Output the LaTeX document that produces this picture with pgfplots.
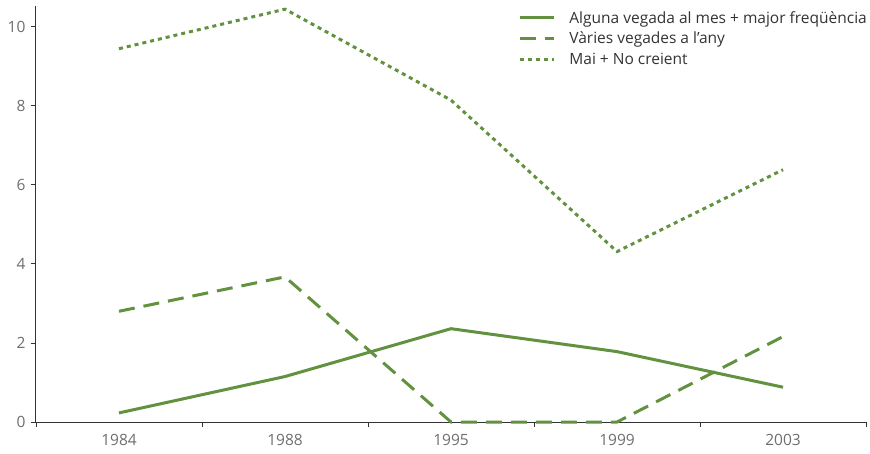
\documentclass[border=0pt]{standalone}
\usepackage{pgfplots}
\pgfplotsset{compat=1.18}
\usepackage{fontspec}
\setmainfont{Open Sans}
\definecolor{grn}{HTML}{62913F}
\definecolor{axc}{HTML}{333333}
\definecolor{tkc}{HTML}{6E6E6E}
\begin{document}
\begin{tikzpicture}
\begin{axis}[
  scale only axis,
  width=830pt, height=416pt,
  xmin=-0.5, xmax=4.5,
  ymin=0, ymax=10.52,
  axis x line=bottom, axis y line=left,
  axis line style={-, axc, line width=1pt},
  xtick={0,1,2,3,4},
  xticklabels={1984,1988,1995,1999,2003},
  major x tick style={draw=none},
  minor xtick={-0.5,0.5,1.5,2.5,3.5,4.5},
  minor x tick style={axc, line width=0.8pt},
  minor tick length=5pt,
  ytick={0,2,4,6,8,10},
  y tick style={axc, line width=0.8pt},
  major tick length=5pt,
  tick align=outside,
  ticklabel style={font=\fontsize{15.5}{17}\selectfont, text=tkc},
  /pgf/number format/assume math mode=true,
  xticklabel style={yshift=-4pt},
  yticklabel style={xshift=-2pt},
  legend style={at={(1,1)}, anchor=north east, draw=none, fill=none,
    font=\fontsize{15.5}{17}\selectfont, text=axc, row sep=3.5pt, inner sep=0pt, yshift=-3pt, xshift=3pt},
  legend cell align=left,
  legend image code/.code={\draw[#1] (0pt,0pt) -- (34pt,0pt); \path (46pt,0pt);},
  clip=false,
]
\addplot[grn, line width=3pt] coordinates {(0,0.23) (1,1.15) (2,2.36) (3,1.78) (4,0.88)};
\addlegendentry{Alguna vegada al mes + major freqüència}
\addplot[grn, line width=3pt, dash pattern=on 16pt off 9pt] coordinates {(0,2.80) (1,3.67) (2,0) (3,0) (4,2.16)};
\addlegendentry{Vàries vegades a l'any}
\addplot[grn, line width=3pt, dash pattern=on 4pt off 4pt] coordinates {(0,9.44) (1,10.44) (2,8.14) (3,4.31) (4,6.38)};
\addlegendentry{Mai + No creient}
\path (rel axis cs:0,1) ++(-36pt,6pt);
\path (rel axis cs:1,0) ++(4pt,-31pt);
\end{axis}
\end{tikzpicture}
\end{document}
